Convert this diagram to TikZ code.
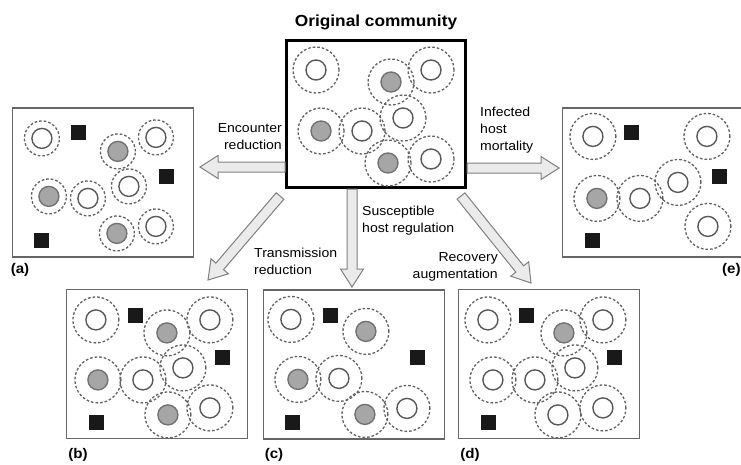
\documentclass[tikz,border=0pt]{standalone}
\usepackage{fontspec}
\setmainfont{Liberation Sans}[FakeStretch=1.08]
\usetikzlibrary{calc}

\begin{document}
\begin{tikzpicture}[
    x=1pt, y=-1pt,
    every node/.style={font=\fontsize{13}{17}\selectfont},
    panel/.style={
        draw=black!60,
        line width=1.2pt,
        minimum width=181pt,
        minimum height=149pt,
        inner sep=0pt
    },
    orig/.style={
        panel,
        draw=black,
        line width=3pt,
        minimum width=179pt,
        minimum height=147pt
    },
    halo/.style={
        draw=black!62,
        line width=1.3pt,
        dash pattern=on 2.6pt off 2pt
    },
    host/.style={
        draw=black!65,
        line width=1.4pt,
        fill=white
    },
    sick/.style={
        host,
        draw=black!55,
        fill=black!35
    },
    trap/.style={
        fill=black!90,
        minimum size=15pt,
        inner sep=0pt
    },
    tag/.style={font=\fontsize{14}{16}\selectfont\bfseries, inner sep=0pt},
    note/.style={inner sep=0pt},
    fat/.style={
        draw=black!50,
        fill=black!8,
        line width=1pt,
        to path={
            ($(\tikztotarget)!18pt!(\tikztostart)$) coordinate (hb)
            ($(\tikztostart)!5pt!90:(\tikztotarget)$)
            -- ($(hb)!5pt!90:(\tikztotarget)$)
            -- ($(hb)!11.5pt!90:(\tikztotarget)$)
            -- (\tikztotarget)
            -- ($(hb)!11.5pt!-90:(\tikztotarget)$)
            -- ($(hb)!5pt!-90:(\tikztotarget)$)
            -- ($(\tikztostart)!5pt!-90:(\tikztotarget)$)
            -- cycle
        }
    }
]

    \path[use as bounding box, fill=white] (0,0) rectangle (741,464);

    % community boxes
    \node[orig] (orig) at (376,114) {};
    \node[panel] (a) at (103,182.5) {};
    \node[panel] (e) at (653,182.5) {};
    \node[panel] (b) at (157,364) {};
    \node[panel] (c) at (354,364.5) {};
    \node[panel] (d) at (549,364) {};

    \node[font=\fontsize{16}{18}\selectfont\bfseries] (title) at (376,22) {Original community};

    % original community
    \begin{scope}[shift={(orig.north west)}]
        \foreach \p in {(31,31),(106,43),(146,31),(118,79),(36,92),(77,92),(103,124),(146,120)}
            \draw[halo] \p circle[radius=23pt];
        \foreach \p in {(31,31),(146,31),(118,79),(77,92),(146,120)}
            \draw[host] \p circle[radius=10pt];
        \foreach \p in {(106,43),(36,92),(103,124)}
            \draw[sick] \p circle[radius=10pt];
    \end{scope}

    % (a) encounter reduction
    \begin{scope}[shift={(a.north west)}]
        \foreach \p in {(30,31),(106,44),(144,30),(117,79),(37,89),(76,91),(105,126),(144,119)}
            \draw[halo] \p circle[radius=17.5pt];
        \foreach \p in {(30,31),(144,30),(117,79),(76,91),(144,119)}
            \draw[host] \p circle[radius=10pt];
        \foreach \p in {(106,44),(37,89),(105,126)}
            \draw[sick] \p circle[radius=10pt];
        \foreach \p [count=\i] in {(67,25),(155,69),(30,133)}
            \node[trap] (a-\i) at \p {};
    \end{scope}

    % (b) transmission reduction
    \begin{scope}[shift={(b.north west)}]
        \foreach \p in {(30,31),(101,44),(144,31),(117,79),(32,91),(77,91),(102,126),(144,119)}
            \draw[halo] \p circle[radius=23pt];
        \foreach \p in {(30,31),(144,31),(117,79),(77,91),(144,119)}
            \draw[host] \p circle[radius=10pt];
        \foreach \p in {(101,44),(32,91),(102,126)}
            \draw[sick] \p circle[radius=10pt];
        \foreach \p [count=\i] in {(70,27),(157,69),(31,134)}
            \node[trap] (b-\i) at \p {};
    \end{scope}

    % (c) susceptible host regulation
    \begin{scope}[shift={(c.north west)}]
        \foreach \p in {(28,30),(103,42),(35,90),(76,89),(102,125),(144,119)}
            \draw[halo] \p circle[radius=23pt];
        \foreach \p in {(28,30),(76,89),(144,119)}
            \draw[host] \p circle[radius=10pt];
        \foreach \p in {(103,42),(35,90),(102,125)}
            \draw[sick] \p circle[radius=10pt];
        \foreach \p [count=\i] in {(68,26),(155,68),(30,133)}
            \node[trap] (c-\i) at \p {};
    \end{scope}

    % (d) recovery augmentation
    \begin{scope}[shift={(d.north west)}]
        \foreach \p in {(30,31),(106,44),(145,31),(117,79),(35,91),(77,91),(100,126),(145,119)}
            \draw[halo] \p circle[radius=23pt];
        \foreach \p in {(30,31),(145,31),(117,79),(35,91),(77,91),(100,126),(145,119)}
            \draw[host] \p circle[radius=10pt];
        \draw[sick] (106,44) circle[radius=10pt];
        \foreach \p [count=\i] in {(69,27),(157,69),(31,134)}
            \node[trap] (d-\i) at \p {};
    \end{scope}

    % (e) infected host mortality
    \begin{scope}[shift={(e.north west)}]
        \foreach \p in {(31,29),(145,29),(116,75),(35,91),(78,91),(146,119)}
            \draw[halo] \p circle[radius=23pt];
        \foreach \p in {(31,29),(145,29),(116,75),(78,91),(146,119)}
            \draw[host] \p circle[radius=10pt];
        \draw[sick] (35,91) circle[radius=10pt];
        \foreach \p [count=\i] in {(70,25),(158,69),(31,133)}
            \node[trap] (e-\i) at \p {};
    \end{scope}

    % arrows
    \coordinate (encT) at (200,167);
    \coordinate (infT) at (559,168);
    \coordinate (susT) at (352,287);
    \coordinate (traT) at (208,280);
    \coordinate (recT) at (531,283);
    \coordinate (traS) at (280,196);
    \coordinate (recS) at (461,196);

    \draw[fat] (orig.west |- encT) to (encT);
    \draw[fat] (orig.east |- infT) to (infT);
    \draw[fat] (orig.south -| susT) to (susT);
    \draw[fat] (traS) to (traT);
    \draw[fat] (recS) to (recT);

    % arrow labels
    \node[note, align=right, anchor=east] (enc) at (282,137) {Encounter\\reduction};
    \node[note, align=left, anchor=west] (inf) at (480,130) {Infected\\host\\mortality};
    \node[note, align=left, anchor=west] (tra) at (254,261) {Transmission\\reduction};
    \node[note, align=left, anchor=west] (sus) at (362,221) {Susceptible\\host regulation};
    \node[note, align=right, anchor=east] (rec) at (498,267) {Recovery\\augmentation};

    % panel tags
    \node[tag] (la) at (20,270) {(a)};
    \node[tag] (lb) at (78,455) {(b)};
    \node[tag] (lc) at (274,455) {(c)};
    \node[tag] (ld) at (470,455) {(d)};
    \node[tag, anchor=west] (le) at (722,270) {(e)};

\end{tikzpicture}
\end{document}
